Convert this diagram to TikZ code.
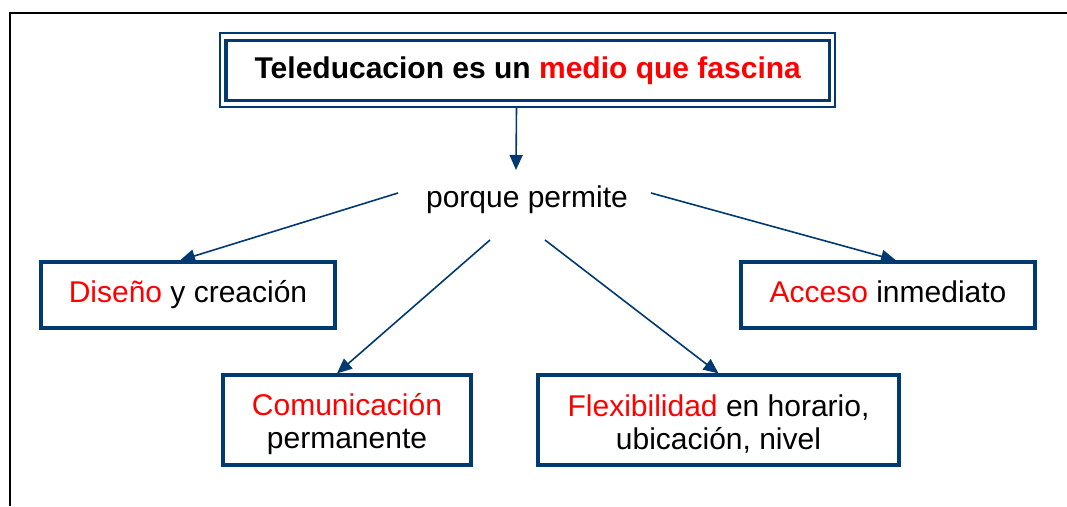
\documentclass[tikz,border=0pt]{standalone}
\usepackage{fontspec}
\setmainfont{Liberation Sans}
\usetikzlibrary{arrows.meta,calc}
\definecolor{navy}{HTML}{003A70}
\definecolor{tred}{HTML}{FF0000}
\begin{document}
\begin{tikzpicture}[x=1pt,y=-1pt,
  every node/.style={font=\fontsize{30}{33}\selectfont},
  box/.style={draw=navy,line width=3.2pt,inner sep=0pt,align=center},
  one/.style={text height=21.5pt,text depth=6.3pt},
  conn/.style={draw=navy,line width=1.6pt,-{Triangle[length=15pt,width=13pt]}},
]
\useasboundingbox (0,0) rectangle (1067,506);
\fill[white] (0,0) rectangle (1067,506);
\draw[line width=2.5pt] (10,506) -- (10,13) -- (1067,13);
\node[draw=navy,line width=2pt,inner sep=0pt,minimum width=615pt,minimum height=73.5pt] (frame) at (527.5,69.75) {};
\node[box,one,line width=3.4pt,minimum width=603.5pt,minimum height=60.5pt,font=\bfseries\fontsize{30}{33}\selectfont] (title) at (527.75,70.5) {Teleducacion es un \textcolor{tred}{medio que fascina}};
\node (porque) at (527,200) {porque permite};
\node[box,one,minimum width=294pt,minimum height=66pt] (dis) at (188,295) {\textcolor{tred}{Diseño} y creación};
\node[box,one,minimum width=294pt,minimum height=66pt] (acc) at (888,295) {\textcolor{tred}{Acceso} inmediato};
\node[box,minimum width=248pt,minimum height=90pt] (com) at (347,420) {};
\node[align=center] (comt) at (347,424) {\textcolor{tred}{Comunicación}\\permanente};
\node[box,minimum width=361pt,minimum height=90pt] (flex) at (718.5,420) {};
\node[align=center] (flext) at (718.5,424) {\textcolor{tred}{Flexibilidad} en horario,\\ubicación, nivel};
\draw[conn] ([xshift=-11pt]frame.south) -- ($(porque.center)+(-11,-30)$);
\draw[conn] ($(porque.center)+(-129,-7)$) -- ([xshift=-8pt]dis.north);
\draw[conn] ($(porque.center)+(124,-7)$) -- ([xshift=8pt]acc.north);
\draw[conn] ($(porque.center)+(-37,40)$) -- ([xshift=-10pt]com.north);
\draw[conn] ($(porque.center)+(18,40)$) -- (flex.north);
\end{tikzpicture}
\end{document}
